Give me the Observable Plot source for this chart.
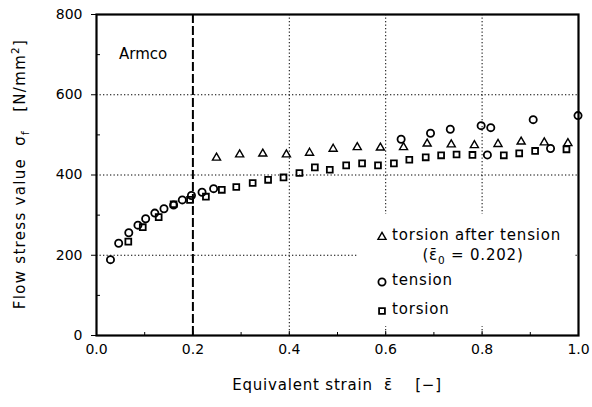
<!DOCTYPE html>
<html><head><meta charset="utf-8">
<script src="https://cdn.jsdelivr.net/npm/d3@7"></script>
<script src="https://cdn.jsdelivr.net/npm/@observablehq/plot@0.6"></script>
<style>
body{margin:0;background:#fff;}
#wrap{position:relative;width:592px;height:407px;font-family:"DejaVu Sans",sans-serif;color:#000;overflow:hidden;}
.t{position:absolute;font-size:15px;letter-spacing:0.8px;white-space:nowrap;line-height:1;}
#legend{position:absolute;left:357px;top:214px;width:217px;height:112px;background:#fff;}
#legend svg{position:absolute;overflow:visible;}
sub,sup{font-size:70%;line-height:0;}
</style></head><body><div id="wrap"></div><script>
// axis ticks
const majorX = [0, 0.2, 0.4, 0.6, 0.8, 1.0];
const minorX = [0.1, 0.3, 0.5, 0.7, 0.9];
const majorY = [0, 200, 400, 600, 800];
const minorY = [100, 300, 500, 700];
const gridX = [0.4, 0.6, 0.8];
const gridY = [200, 400, 600];
const preStrain = [0.2];

// torsion after tension (triangles)
const tatX = [0.249,0.297,0.345,0.394,0.442,0.491,0.541,0.589,0.637,0.686,0.736,0.784,0.833,0.881,0.929,0.978];
const tatY = [443,451,453,451,455,465,469,468,469,478,476,474,477,483,481,479];

// tension (circles)
const tenX = [0.029,0.046,0.067,0.086,0.102,0.121,0.140,0.160,0.178,0.197,0.219,0.243,0.632,0.693,0.734,0.798,0.811,0.818,0.906,0.942,0.999];
const tenY = [189,230,256,275,291,305,316,325,338,349,357,366,489,504,514,523,450,518,538,466,548];

// torsion (squares)
const torX = [0.066,0.096,0.129,0.160,0.194,0.227,0.260,0.290,0.324,0.356,0.388,0.421,0.453,0.484,0.518,0.551,0.584,0.617,0.649,0.683,0.715,0.747,0.780,0.845,0.877,0.910,0.975];
const torY = [234,270,295,327,338,346,363,370,380,388,394,405,419,413,424,429,424,429,438,444,449,451,450,449,454,460,464];

const dotted = {stroke:"#000", strokeOpacity:1, strokeWidth:1, strokeDasharray:"1.3,2.2"};
const markStyle = {stroke:"#000", fill:"none", strokeWidth:1.8};

const chart = Plot.plot({
  width: 592, height: 407,
  marginLeft: 96, marginRight: 14, marginTop: 14, marginBottom: 72,
  x: {domain: [0, 1]},
  y: {domain: [0, 800]},
  style: {fontFamily: "DejaVu Sans, sans-serif", fontSize: "14px", color: "#000", background: "#fff", overflow: "visible"},
  marks: [
    Plot.gridY(gridY, dotted),
    Plot.gridX(gridX, dotted),
    Plot.ruleX(preStrain, {stroke:"#000", strokeWidth:2, strokeDasharray:"9,3"}),
    Plot.axisY(majorY, {tickSize: 5, tickPadding: 9, label: null, fontSize: 14}),
    Plot.axisY(minorY, {tickSize: -4, tickFormat: () => "", label: null}),
    Plot.axisX(majorX, {tickSize: -4, tickPadding: 13, tickFormat: d3.format(".1f"), label: null, fontSize: 14}),
    Plot.axisX(minorX, {tickSize: -3, tickFormat: () => "", label: null}),
    Plot.frame({stroke:"#000", strokeWidth: 2.2}),
    Plot.dot(tatX, {x: tatX, y: tatY, symbol: "triangle", r: 3.0, ...markStyle, strokeWidth: 1.4}),
    Plot.dot(tenX, {x: tenX, y: tenY, symbol: "circle", r: 3.6, ...markStyle}),
    Plot.dot(torX, {x: torX, y: torY, symbol: "square", r: 3.3, ...markStyle})
  ]
});

const wrap = document.getElementById("wrap");
wrap.appendChild(chart);

function addText(html, css){
  const d = document.createElement("div");
  d.className = "t";
  d.innerHTML = html;
  Object.assign(d.style, css);
  wrap.appendChild(d);
  return d;
}
addText("Armco", {left:"119px", top:"47px", letterSpacing:"0px"});
addText("Equivalent strain&nbsp; ε̄ &nbsp;&nbsp; [−]", {left:"337px", top:"378px", transform:"translateX(-50%)"});
addText("Flow stress value&nbsp; σ<sub>f</sub> &nbsp;&nbsp;[N/mm<sup>2</sup>]", {left:"20px", top:"174px", letterSpacing:"1.3px", transform:"translate(-50%,-50%) rotate(-90deg)"});

// legend
const legendItems = [
  {symbol: d3.symbolTriangle, r: 3.0, sw: 1.4, lines: ["torsion after tension", "(ε̄<sub>0</sub> = 0.202)"]},
  {symbol: d3.symbolCircle, r: 3.6, sw: 1.8, lines: ["tension"]},
  {symbol: d3.symbolSquare, r: 3.3, sw: 1.8, lines: ["torsion"]}
];
const legend = document.createElement("div");
legend.id = "legend";
wrap.appendChild(legend);
const rowTops = [23, 68, 97];
legendItems.forEach((it, i) => {
  const svg = d3.create("svg").attr("width", 12).attr("height", 12)
    .style("left", "19px").style("top", (rowTops[i] - 6) + "px");
  svg.append("path").attr("transform", "translate(6,6)")
    .attr("d", d3.symbol(it.symbol, Math.PI * it.r * it.r)())
    .attr("fill", "none").attr("stroke", "#000").attr("stroke-width", it.sw);
  legend.appendChild(svg.node());
  const t = document.createElement("div");
  t.className = "t";
  t.innerHTML = it.lines[0];
  Object.assign(t.style, {left: "35px", top: (rowTops[i] - 9) + "px"});
  legend.appendChild(t);
  if (it.lines[1]) {
    const t2 = document.createElement("div");
    t2.className = "t";
    t2.innerHTML = it.lines[1];
    Object.assign(t2.style, {left: "116px", top: (rowTops[i] + 11) + "px", transform: "translateX(-50%)"});
    legend.appendChild(t2);
  }
});
</script></body></html>
